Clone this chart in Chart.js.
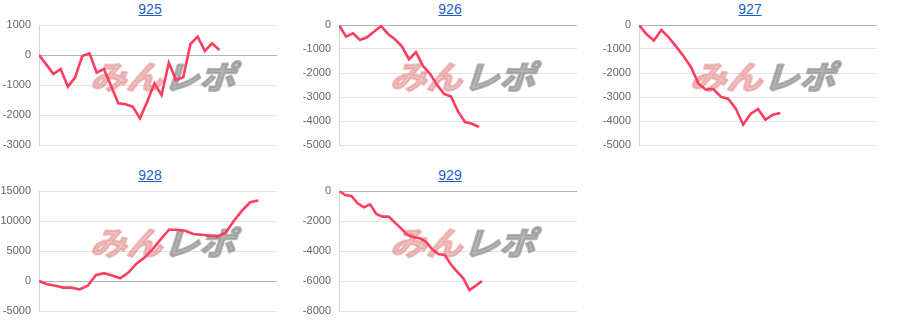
<!DOCTYPE html>
<html>
<head>
<meta charset="utf-8">
<script src="https://cdn.jsdelivr.net/npm/chart.js@4.4.1/dist/chart.umd.min.js"></script>
<style>
  html,body{margin:0;padding:0;background:#fff;}
  #grid{position:relative;width:900px;height:332px;}
  .cell{position:absolute;width:300px;height:166px;}
  .ttl{position:absolute;left:0;top:0;width:300px;height:18px;text-align:center;
       font:14px "Liberation Sans",Arial,sans-serif;line-height:19px;}
  .ttl a{color:#1a5fc9;text-decoration:underline;}
  canvas{position:absolute;left:0;top:18px;}
</style>
</head>
<body>
<div id="grid"></div>
<script>
// ---- data ----
const titles = ["925", "926", "927", "928", "929"];

const s925 = [0,-311,-633,-467,-1056,-756,-33,56,-589,-467,-1033,-1611,-1644,-1722,-2111,-1556,-944,-1333,-256,-833,-744,367,611,133,389,167];
const s926 = [0,-485,-346,-623,-512,-277,-42,-374,-596,-900,-1427,-1136,-1704,-2036,-2493,-2867,-2978,-3601,-4044,-4114,-4252];
const s927 = [0,-375,-653,-208,-514,-900,-1300,-1760,-2450,-2694,-2667,-2986,-3083,-3472,-4153,-3708,-3500,-3944,-3736,-3667];
const s928 = [0,-551,-780,-1100,-1110,-1400,-780,980,1300,900,450,1400,2900,3911,5307,6983,8547,8547,8380,7821,7709,7542,7374,8101,10056,11732,13128,13408];
const s929 = [0,-267,-333,-822,-1089,-889,-1533,-1711,-1711,-2111,-2489,-2933,-3089,-3156,-3378,-3889,-4200,-4267,-4889,-5378,-5822,-6600,-6311,-6000];

const seriesList = [s925, s926, s927, s928, s929];
// y-axis ranges & steps (tick labels)
const yMins  = [-3000, -5000, -5000, -5000, -8000];
const yMaxs  = [1000, 0, 0, 15000, 0];
const ySteps = [1000, 1000, 1000, 5000, 2000];
// x-axis extent (slots on hidden x axis)
const xMaxs  = [33, 34, 32, 29.3, 38.3];

function drawMark(ctx, text, x, y, color) {
  ctx.save();
  ctx.translate(x, y);
  ctx.transform(1.12, 0, -0.32, 1, 0, 0);
  ctx.fillStyle = ctx.strokeStyle = color;
  ctx.strokeText(text, 0, 0);
  ctx.fillText(text, 0, 0);
  ctx.restore();
}

const watermark = {
  id: 'watermark',
  beforeDatasetsDraw(chart) {
    const ctx = chart.ctx;
    ctx.save();
    ctx.font = 'bold 32px "Noto Sans CJK JP", sans-serif';
    ctx.textBaseline = 'middle';
    ctx.textAlign = 'left';
    ctx.lineJoin = 'round';
    ctx.lineWidth = 2.4;
    drawMark(ctx, 'みん', 94, 59, 'rgba(228,150,150,0.6)');
    drawMark(ctx, 'レポ', 167, 59, 'rgba(150,150,150,0.7)');
    ctx.restore();
  }
};

const grid = document.getElementById('grid');
seriesList.forEach((vals, k) => {
  const cell = document.createElement('div');
  cell.className = 'cell';
  cell.style.left = (k % 3) * 300 + 'px';
  cell.style.top = Math.floor(k / 3) * 166 + 'px';
  const t = document.createElement('div');
  t.className = 'ttl';
  const a = document.createElement('a');
  a.href = '#';
  a.textContent = titles[k];
  t.appendChild(a);
  cell.appendChild(t);
  const cv = document.createElement('canvas');
  cv.width = 300; cv.height = 148;
  cell.appendChild(cv);
  grid.appendChild(cell);

  new Chart(cv, {
    type: 'line',
    data: {
      datasets: [{
        data: vals.map((v, i) => ({x: i, y: v})),
        borderColor: '#ff3d5e',
        borderWidth: 2.6,
        pointRadius: 0,
        tension: 0,
        fill: false
      }]
    },
    options: {
      responsive: false,
      animation: false,
      layout: {padding: {top: 7, right: 23, bottom: 21, left: 0}},
      plugins: {legend: {display: false}, tooltip: {enabled: false}},
      scales: {
        x: {type: 'linear', min: 0, max: xMaxs[k], display: false},
        y: {
          min: yMins[k], max: yMaxs[k],
          afterFit(s) { s.width = 39; s.paddingTop = 7; s.paddingBottom = 7; },
          ticks: {stepSize: ySteps[k], padding: 8, color: '#666',
                  callback: v => String(v),
                  font: {family: '"Liberation Sans", Arial, sans-serif', size: 11}},
          grid: {drawTicks: false,
                 color: c => (c.tick && c.tick.value === 0) ? '#b4b4b4' : '#e3e3e3'},
          border: {color: '#d6d6d6'}
        }
      }
    },
    plugins: [watermark]
  });
});
</script>
</body>
</html>
